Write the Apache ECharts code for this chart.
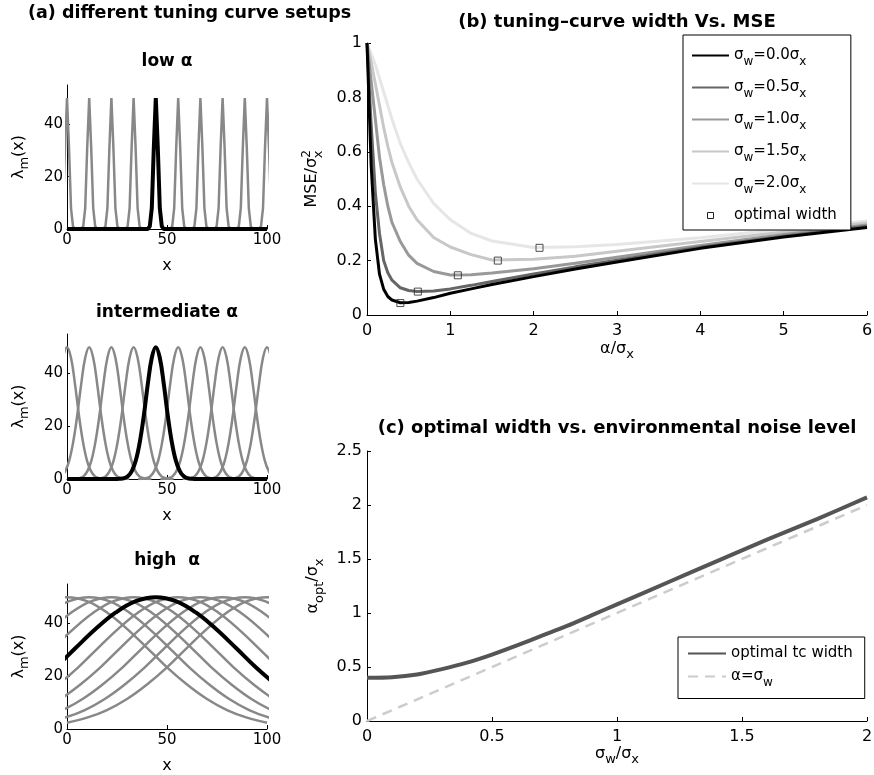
<!DOCTYPE html>
<html>
<head>
<meta charset="utf-8">
<title>tuning curve width vs MSE</title>
<script src="https://cdn.jsdelivr.net/npm/echarts@6/dist/echarts.min.js"></script>
<style>
  html, body { margin: 0; padding: 0; background: #fff; }
  #main { width: 874px; height: 775px; }
</style>
</head>
<body>
<div id="main"></div>
<script>
// (a) centres of the tuning curves, the black one is the 5th
const centres = [0, 11.1, 22.2, 33.3, 44.4, 55.6, 66.7, 77.8, 88.9, 100];
const highlighted = 4;

// shape of one tuning curve: distance from its centre -> rate
const lowOffsets = [0, 1, 2, 3, 4];
const lowRates = [50, 31, 8, 1, 0];
const midOffsets = [0, 2, 4, 6, 8, 10, 12, 14, 16, 18, 20];
const midRates = [50, 46, 36, 24, 14, 7, 3, 1, 0.3, 0.1, 0];
const highOffsets = [0, 10, 20, 30, 40, 50, 60, 70, 80, 90, 100];
const highRates = [50, 48.5, 44.2, 38, 30.8, 23.4, 16.9, 11.4, 7.2, 4.3, 2.4];

// (b) MSE/sigma_x^2 against alpha/sigma_x
const alphas = [0, 0.05, 0.1, 0.15, 0.2, 0.25, 0.3, 0.4, 0.5, 0.6, 0.8, 1, 1.25, 1.5, 2, 2.5, 3, 4, 5, 6];
const mseW00 = [1, 0.55, 0.28, 0.15, 0.095, 0.068, 0.055, 0.045, 0.046, 0.051, 0.064, 0.08, 0.096, 0.112, 0.141, 0.169, 0.195, 0.245, 0.287, 0.322];
const mseW05 = [1, 0.7, 0.45, 0.3, 0.2, 0.155, 0.128, 0.1, 0.09, 0.086, 0.088, 0.096, 0.109, 0.123, 0.151, 0.177, 0.201, 0.249, 0.29, 0.326];
const mseW10 = [1, 0.86, 0.72, 0.58, 0.48, 0.4, 0.34, 0.27, 0.22, 0.19, 0.16, 0.147, 0.148, 0.154, 0.17, 0.19, 0.212, 0.256, 0.296, 0.331];
const mseW15 = [1, 0.93, 0.85, 0.77, 0.69, 0.62, 0.56, 0.47, 0.4, 0.35, 0.285, 0.25, 0.222, 0.202, 0.205, 0.216, 0.234, 0.27, 0.305, 0.338];
const mseW20 = [1, 0.96, 0.92, 0.87, 0.82, 0.77, 0.72, 0.63, 0.56, 0.5, 0.41, 0.35, 0.3, 0.272, 0.248, 0.251, 0.259, 0.284, 0.315, 0.346];
const widthLevels = ['0.0', '0.5', '1.0', '1.5', '2.0'];
const optAlpha = [0.40, 0.61, 1.09, 1.57, 2.07];
const optMse = [0.044, 0.086, 0.146, 0.2, 0.247];

// (c) optimal width against sigma_w/sigma_x
const sigmaW = [0, 0.1, 0.2, 0.3, 0.4, 0.5, 0.6, 0.7, 0.8, 0.9, 1, 1.2, 1.4, 1.6, 1.8, 2];
const alphaOpt = [0.4, 0.405, 0.43, 0.48, 0.54, 0.615, 0.7, 0.79, 0.88, 0.98, 1.08, 1.28, 1.48, 1.68, 1.87, 2.07];
const diagX = [0, 2];
const diagY = [0, 2];

const FONT = '"DejaVu Sans", Arial, sans-serif';
const mseColors = ['#000000', '#666666', '#999999', '#c8c8c8', '#e6e6e6'];
const squareIcon = 'path://M0,0L10,0L10,10L0,10Z';

const zip = (xs, ys) => xs.map((x, i) => [x, ys[i]]);

function tuningCurve(c, offsets, rates, withBase) {
  let pts = [];
  for (let i = offsets.length - 1; i > 0; i--) pts.push([c - offsets[i], rates[i]]);
  for (let i = 0; i < offsets.length; i++) pts.push([c + offsets[i], rates[i]]);
  if (withBase) pts = [[0, 0]].concat(pts, [[100, 0]]);
  return pts;
}

function rich(size) {
  const base = { fontFamily: FONT, color: '#000' };
  return {
    n: Object.assign({ fontSize: size }, base),
    sub: Object.assign({ fontSize: size - 3, padding: [12, 0, 0, 0] }, base),
    sup: Object.assign({ fontSize: size - 4, padding: [0, 0, 10, 0] }, base),
    subx: Object.assign({ fontSize: size - 3, padding: [13, 0, 0, -8] }, base)
  };
}

function axis(grid, min, max, interval, extra) {
  const col = '#000';
  return Object.assign({
    type: 'value', gridIndex: grid, min: min, max: max, interval: interval,
    nameLocation: 'middle',
    nameTextStyle: { rich: rich(16) },
    axisLine: { show: true, onZero: false, lineStyle: { color: col, width: 1 } },
    axisTick: { show: true, inside: true, length: 4, lineStyle: { color: col } },
    axisLabel: { fontSize: 16, fontFamily: FONT, color: '#000', margin: 6 },
    splitLine: { show: false }
  }, extra);
}

const panels = [
  { offsets: lowOffsets, rates: lowRates, smooth: false },
  { offsets: midOffsets, rates: midRates, smooth: 0.4 },
  { offsets: highOffsets, rates: highRates, smooth: 0.4 }
];

const xAxes = [], yAxes = [], series = [];
const grids = [
  { left: 67, top: 85, width: 200, height: 144 },
  { left: 67, top: 334, width: 200, height: 145 },
  { left: 67, top: 584, width: 200, height: 145 },
  { left: 367, top: 43, width: 500, height: 272 },
  { left: 367, top: 451, width: 500, height: 270 }
].map(g => Object.assign({ outerBoundsMode: 'none', containLabel: false }, g));

panels.forEach((p, k) => {
  xAxes.push(axis(k, 0, 100, 50, {
    name: '{n|x}', nameGap: 29,
    axisLabel: { fontSize: 15, fontFamily: FONT, color: '#000', margin: 4 }
  }));
  yAxes.push(axis(k, 0, 55, 20, {
    name: '{n|λ}{sub|m}{n|(x)}', nameGap: 36,
    axisTick: { show: true, inside: true, length: 3, customValues: [0, 20, 40], lineStyle: { color: '#000' } },
    axisLabel: { fontSize: 15, fontFamily: FONT, color: '#000', margin: 4, customValues: [0, 20, 40] }
  }));
  centres.forEach((c, i) => {
    if (i === highlighted) return;
    series.push({
      name: 'a' + k + '-' + i, type: 'line', xAxisIndex: k, yAxisIndex: k,
      data: tuningCurve(c, p.offsets, p.rates, false),
      symbol: 'none', smooth: p.smooth, silent: true,
      lineStyle: { color: '#888', width: 2.5 }
    });
  });
  series.push({
    name: 'a' + k + '-black', type: 'line', xAxisIndex: k, yAxisIndex: k,
    data: tuningCurve(centres[highlighted], p.offsets, p.rates, k < 2),
    symbol: 'none', smooth: p.smooth, silent: true, z: 3,
    lineStyle: { color: '#000', width: 4 }
  });
});

// (b)
xAxes.push(axis(3, 0, 6, 1, { name: '{n|α/σ}{sub|x}', nameGap: 21,
  axisLabel: { fontSize: 16, fontFamily: FONT, color: '#000', margin: 8 } }));
yAxes.push(axis(3, 0, 1, 0.2, { name: '{n|MSE/σ}{sup|2}{subx|x}', nameGap: 42,
  axisLabel: { fontSize: 16, fontFamily: FONT, color: '#000', margin: 5 } }));
const mseSets = [mseW00, mseW05, mseW10, mseW15, mseW20];
const mseNames = widthLevels.map(l => 'σw=' + l + 'σx');
for (let i = mseSets.length - 1; i >= 0; i--) {
  series.push({
    name: mseNames[i], type: 'line', xAxisIndex: 3, yAxisIndex: 3,
    data: zip(alphas, mseSets[i]), symbol: 'none', smooth: false,
    silent: true, lineStyle: { color: mseColors[i], width: 3 }, itemStyle: { color: mseColors[i] }
  });
}
series.push({
  name: 'optimal width', type: 'scatter', xAxisIndex: 3, yAxisIndex: 3,
  data: zip(optAlpha, optMse), symbol: 'rect', symbolSize: 7, z: 5, silent: true,
  itemStyle: { color: 'rgba(0,0,0,0)', borderColor: '#222', borderWidth: 1 }
});

// (c)
xAxes.push(axis(4, 0, 2, 0.5, { name: '{n|σ}{sub|w}{n|/σ}{sub|x}', nameGap: 20,
  axisLabel: { fontSize: 16, fontFamily: FONT, color: '#000', margin: 8 } }));
yAxes.push(axis(4, 0, 2.5, 0.5, { name: '{n|α}{sub|opt}{n|/σ}{sub|x}', nameGap: 38,
  axisLabel: { fontSize: 16, fontFamily: FONT, color: '#000', margin: 5 } }));
series.push({
  name: 'α=σw', type: 'line', xAxisIndex: 4, yAxisIndex: 4,
  data: zip(diagX, diagY), symbol: 'none', silent: true,
  lineStyle: { color: '#cccccc', width: 2.5, type: [10, 7] }, itemStyle: { color: '#cccccc' }
});
series.push({
  name: 'optimal tc width', type: 'line', xAxisIndex: 4, yAxisIndex: 4,
  data: zip(sigmaW, alphaOpt), symbol: 'none', smooth: 0.3, silent: true, z: 3,
  lineStyle: { color: '#555555', width: 4 }, itemStyle: { color: '#555555' }
});

const legendText = {
  'optimal width': '{n|optimal width}',
  'optimal tc width': '{n|optimal tc width}',
  'α=σw': '{n|α=σ}{sub|w}'
};
widthLevels.forEach((l, i) => { legendText[mseNames[i]] = '{n|σ}{sub|w}{n|=' + l + 'σ}{sub|x}'; });

const titleText = (x, y, text, size, align) => ({
  type: 'text', x: x, y: y, silent: true,
  style: { text: text, font: 'bold ' + size + 'px ' + FONT, fill: '#000', align: align, verticalAlign: 'middle' }
});

const legendBase = {
  orient: 'vertical', selectedMode: false,
  borderColor: '#000', borderWidth: 1, backgroundColor: '#fff',
  itemStyle: { opacity: 0 },
  formatter: name => legendText[name],
  textStyle: { rich: rich(15) }
};

const chart = echarts.init(document.getElementById('main'), null, { renderer: 'canvas' });
chart.setOption({
  animation: false,
  backgroundColor: '#fff',
  grid: grids,
  xAxis: xAxes,
  yAxis: yAxes,
  series: series,
  legend: [
    Object.assign({}, legendBase, {
      left: 683, top: 35, padding: [13, 14, 7, 8],
      itemWidth: 37, itemHeight: 6, itemGap: 12.5,
      data: mseNames.map(n => ({ name: n })).concat([{
        name: 'optimal width', icon: squareIcon,
        itemStyle: { opacity: 1, color: 'rgba(0,0,0,0)', borderColor: '#222', borderWidth: 1 }
      }])
    }),
    Object.assign({}, legendBase, {
      left: 678, top: 637, padding: [9, 12, 10, 9],
      itemWidth: 38, itemHeight: 8, itemGap: 8,
      data: [{ name: 'optimal tc width' }, { name: 'α=σw' }]
    })
  ],
  graphic: [
    titleText(28, 13, '(a) different tuning curve setups', 17.5, 'left'),
    titleText(167, 62, 'low α', 17, 'center'),
    titleText(167, 313, 'intermediate α', 17, 'center'),
    titleText(167, 561, 'high  α', 17, 'center'),
    titleText(617, 22, '(b) tuning–curve width Vs. MSE', 18, 'center'),
    titleText(617, 428, '(c) optimal width vs. environmental noise level', 18, 'center')
  ]
});
</script>
</body>
</html>
